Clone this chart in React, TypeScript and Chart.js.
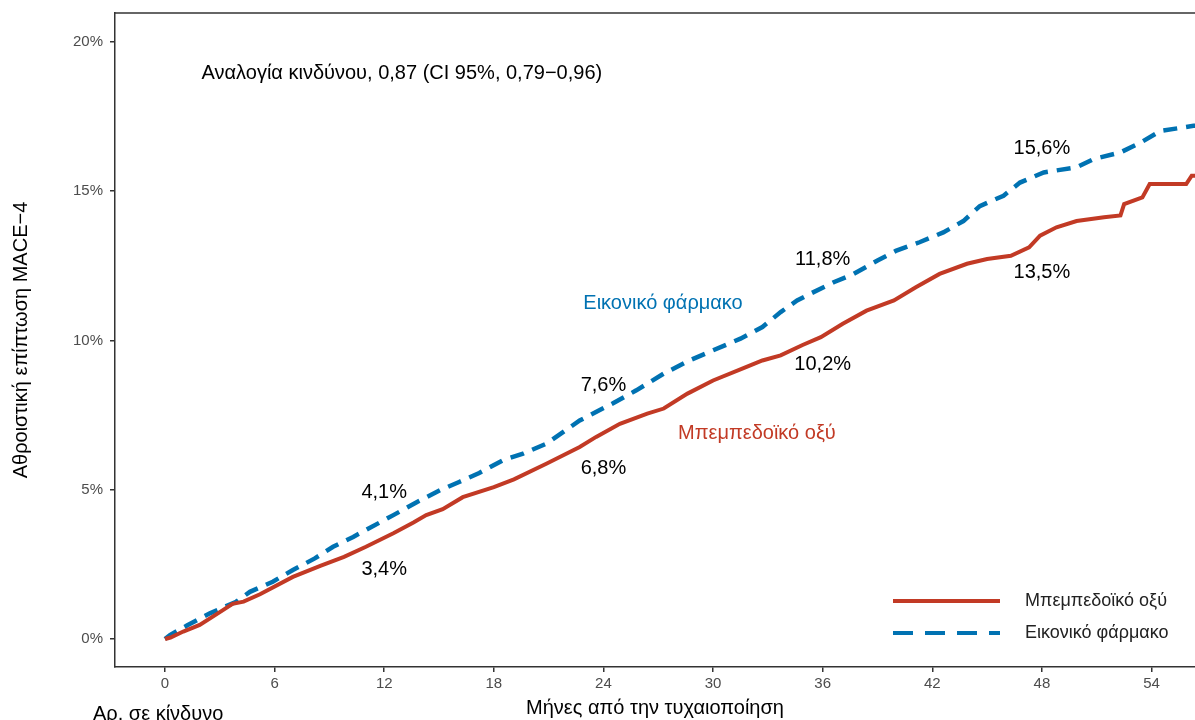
import { useEffect, useRef } from "react";
import { Chart, registerables } from "chart.js";

Chart.register(...registerables);

const FONT = "'Liberation Sans', Arial, Helvetica, sans-serif";
const RED = "#C23A25";
const BLUE = "#0072B2";
const AXIS = "#333333";

// Berberine (red, solid) cumulative incidence, % by month
const redMonths = [0, 0.3, 1, 1.9, 3, 3.7, 4.3, 5.2, 7.0, 8.5, 9.8, 11.0, 12.5, 13.6, 14.3, 15.2, 16.3, 18.0, 19.1, 20.9, 22.7, 23.6, 24.9, 26.4, 27.3, 28.6, 30.0, 31.8, 32.7, 33.7, 34.9, 35.9, 37.1, 38.4, 39.9, 41.1, 42.4, 43.9, 45.0, 46.3, 47.3, 47.9, 48.8, 49.9, 51.4, 52.3, 52.5, 53.5, 53.9, 55.9, 56.2, 57];
const redPct = [0, 0.05, 0.25, 0.47, 0.9, 1.18, 1.25, 1.5, 2.08, 2.45, 2.75, 3.09, 3.54, 3.9, 4.15, 4.35, 4.75, 5.09, 5.35, 5.88, 6.43, 6.77, 7.21, 7.55, 7.72, 8.22, 8.66, 9.11, 9.33, 9.5, 9.85, 10.11, 10.56, 11.0, 11.34, 11.78, 12.23, 12.57, 12.73, 12.84, 13.12, 13.51, 13.79, 14.0, 14.13, 14.19, 14.57, 14.79, 15.24, 15.24, 15.52, 15.52];

// Placebo (blue, dashed)
const blueMonths = [0, 0.27, 1.2, 2.46, 3.9, 4.65, 5.9, 7.0, 8.2, 9.2, 10.3, 12.5, 13.8, 15.05, 16.1, 17.2, 18.5, 19.6, 20.9, 22.7, 24.5, 25.8, 27.3, 28.7, 30.0, 31.5, 32.7, 33.7, 34.6, 35.3, 36.6, 37.7, 39.0, 40.0, 41.3, 42.6, 43.7, 44.6, 45.9, 46.8, 48.1, 49.9, 50.8, 52.3, 53.4, 54.5, 56.3, 57];
const bluePct = [0, 0.13, 0.45, 0.86, 1.25, 1.58, 1.92, 2.31, 2.7, 3.09, 3.42, 4.15, 4.59, 4.98, 5.26, 5.56, 5.99, 6.21, 6.55, 7.32, 7.89, 8.33, 8.89, 9.33, 9.67, 10.06, 10.45, 10.95, 11.34, 11.56, 11.95, 12.23, 12.68, 13.0, 13.29, 13.62, 14.0, 14.5, 14.85, 15.29, 15.63, 15.8, 16.07, 16.3, 16.63, 17.02, 17.19, 17.19];

const xTicks = [0, 6, 12, 18, 24, 30, 36, 42, 48, 54];
const yTicks = [0, 5, 10, 15, 20];

const seriesNames = ["Μπεμπεδοϊκό οξύ", "Εικονικό φάρμακο"];

// milestone labels: month, placement value (%), text
const labelMonths = [12, 12, 24, 24, 36, 36, 48, 48];
const labelPos = [4.92, 2.34, 8.5, 5.72, 12.7, 9.2, 16.42, 12.27];
const labelTexts = ["4,1%", "3,4%", "7,6%", "6,8%", "11,8%", "10,2%", "15,6%", "13,5%"];

const hrText = "Αναλογία κινδύνου, 0,87 (CI 95%, 0,79−0,96)";
const yTitle = "Αθροιστική επίπτωση MACE−4";
const xTitle = "Μήνες από την τυχαιοποίηση";
const riskTitle = "Αρ. σε κίνδυνο";

const annotationPlugin = {
  id: "annotations",
  afterDraw(chart: any) {
    const { ctx, chartArea, scales } = chart;
    const xs = scales.x;
    const ys = scales.y;
    ctx.save();
    // top border of the panel
    ctx.strokeStyle = AXIS;
    ctx.lineWidth = 1.5;
    ctx.beginPath();
    ctx.moveTo(chartArea.left, chartArea.top);
    ctx.lineTo(chartArea.right, chartArea.top);
    ctx.stroke();

    ctx.fillStyle = "#000";
    ctx.font = `20px ${FONT}`;
    ctx.textBaseline = "middle";
    ctx.textAlign = "left";
    ctx.fillText(hrText, xs.getPixelForValue(2.0), ys.getPixelForValue(18.93));

    ctx.textAlign = "center";
    for (let i = 0; i < labelTexts.length; i++) {
      ctx.fillText(labelTexts[i], xs.getPixelForValue(labelMonths[i]), ys.getPixelForValue(labelPos[i]));
    }
    ctx.fillStyle = BLUE;
    ctx.fillText(seriesNames[1], xs.getPixelForValue(27.26), ys.getPixelForValue(11.24));
    ctx.fillStyle = RED;
    ctx.fillText(seriesNames[0], xs.getPixelForValue(32.4), ys.getPixelForValue(6.89));

    // legend
    ctx.lineCap = "butt";
    ctx.lineWidth = 4;
    ctx.strokeStyle = RED;
    ctx.setLineDash([]);
    ctx.beginPath();
    ctx.moveTo(893, 601);
    ctx.lineTo(1000, 601);
    ctx.stroke();
    ctx.strokeStyle = BLUE;
    ctx.setLineDash([20, 12]);
    ctx.beginPath();
    ctx.moveTo(893, 633);
    ctx.lineTo(1000, 633);
    ctx.stroke();
    ctx.setLineDash([]);
    ctx.fillStyle = "#222";
    ctx.font = `18px ${FONT}`;
    ctx.textAlign = "left";
    ctx.fillText(seriesNames[0], 1025, 601);
    ctx.fillText(seriesNames[1], 1025, 633);

    // number at risk heading
    ctx.fillStyle = "#000";
    ctx.font = `20px ${FONT}`;
    ctx.textBaseline = "alphabetic";
    ctx.fillText(riskTitle, 93, 720);
    ctx.restore();
  },
};

export default function App() {
  const ref = useRef<HTMLCanvasElement>(null);
  useEffect(() => {
    const canvas = ref.current;
    if (!canvas) return;
    const chart = new Chart(canvas, {
      type: "line",
      data: {
        datasets: [
          {
            label: seriesNames[0],
            data: redMonths.map((m, i) => ({ x: m, y: redPct[i] })),
            borderColor: RED,
            borderWidth: 4,
            pointRadius: 0,
            tension: 0,
            fill: false,
          },
          {
            label: seriesNames[1],
            data: blueMonths.map((m, i) => ({ x: m, y: bluePct[i] })),
            borderColor: BLUE,
            borderWidth: 4.5,
            borderDash: [14, 9],
            pointRadius: 0,
            tension: 0,
            fill: false,
          },
        ],
      },
      options: {
        responsive: false,
        animation: false,
        devicePixelRatio: 1,
        layout: { padding: { top: 13, left: 0, right: 0, bottom: 0 } },
        plugins: { legend: { display: false }, tooltip: { enabled: false } },
        scales: {
          x: {
            type: "linear",
            min: -2.737,
            max: 56.38,
            afterBuildTicks: (s: any) => {
              s.ticks = xTicks.map((v) => ({ value: v }));
            },
            afterFit: (s: any) => {
              s.height = 53;
              s.paddingLeft = 0;
              s.paddingRight = 0;
            },
            ticks: {
              color: "#4D4D4D",
              font: { family: FONT, size: 15 },
              padding: 3,
              maxRotation: 0,
              autoSkip: false,
            },
            grid: { drawOnChartArea: false, drawTicks: true, tickLength: 5, color: AXIS, lineWidth: 1.5 },
            border: { display: true, color: AXIS, width: 1.5 },
            title: {
              display: true,
              text: xTitle,
              color: "#000",
              font: { family: FONT, size: 20 },
              padding: { top: 0, bottom: 0 },
            },
          },
          y: {
            type: "linear",
            min: -0.938,
            max: 20.97,
            afterBuildTicks: (s: any) => {
              s.ticks = yTicks.map((v) => ({ value: v }));
            },
            afterFit: (s: any) => {
              s.width = 115;
              s.paddingTop = 0;
              s.paddingBottom = 0;
            },
            ticks: {
              color: "#4D4D4D",
              font: { family: FONT, size: 15 },
              padding: 7,
              callback: (v: any) => `${v}%`,
            },
            grid: { drawOnChartArea: false, drawTicks: true, tickLength: 5, color: AXIS, lineWidth: 1.5 },
            border: { display: true, color: AXIS, width: 1.5 },
            title: {
              display: true,
              text: yTitle,
              color: "#000",
              font: { family: FONT, size: 20 },
              padding: { top: 9, bottom: 0 },
            },
          },
        },
      },
      plugins: [annotationPlugin],
    } as any);
    return () => chart.destroy();
  }, []);
  return (
    <div style={{ position: "absolute", left: 0, top: 0, width: 1195, height: 720, background: "#fff" }}>
      <canvas ref={ref} width={1195} height={720} style={{ display: "block" }} />
    </div>
  );
}
